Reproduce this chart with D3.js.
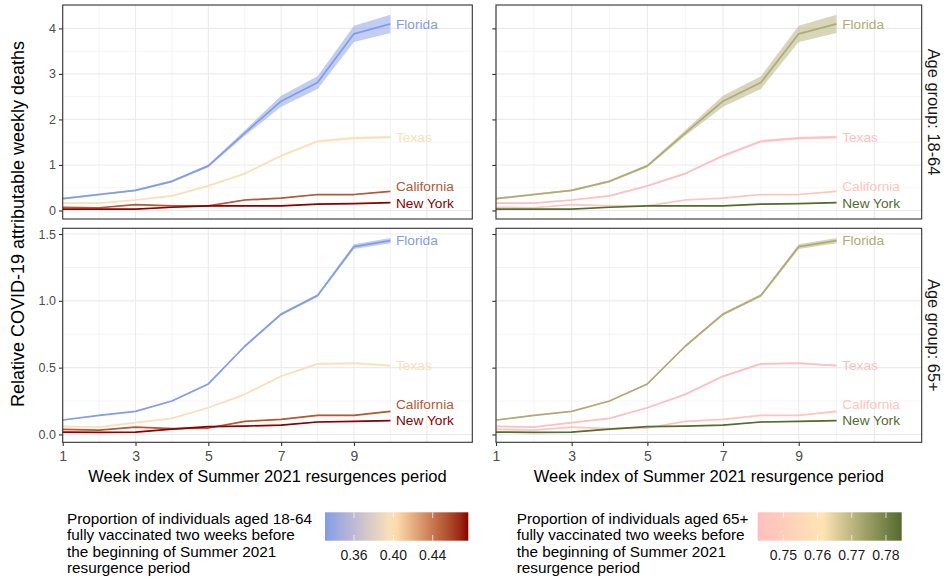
<!DOCTYPE html>
<html>
<head>
<meta charset="utf-8">
<script src="https://cdn.jsdelivr.net/npm/d3@7"></script>
<style>
body{margin:0;background:#fff;}
svg{display:block;font-family:"Liberation Sans",Arial,sans-serif;}
</style>
</head>
<body>
<div id="chart"></div>
<script>
// DATA
var weeks = [1,2,3,4,5,6,7,8,9,10];
var states = ["Florida","Texas","California","New York"];
// share fully vaccinated, per state (same order as states)
var vax1864 = [0.3305, 0.396, 0.452, 0.4762];
var vax65 = [0.772, 0.7425, 0.746, 0.7846];

// age group 18-64: mean and half width of band
var fl1864 = [0.26,0.35,0.44,0.64,0.98,1.70,2.40,2.81,3.88,4.10];
var fl1864Err = [0.02,0.02,0.02,0.025,0.03,0.06,0.12,0.14,0.18,0.20];
var tx1864 = [0.16,0.16,0.23,0.32,0.54,0.81,1.20,1.52,1.59,1.61];
var tx1864Err = [0.01,0.01,0.01,0.015,0.015,0.02,0.025,0.03,0.03,0.03];
var ca1864 = [0.07,0.06,0.13,0.10,0.10,0.23,0.27,0.35,0.35,0.42];
var ca1864Err = [0.005,0.005,0.006,0.006,0.006,0.008,0.008,0.01,0.01,0.01];
var ny1864 = [0.03,0.03,0.03,0.07,0.10,0.10,0.10,0.14,0.15,0.17];
var ny1864Err = [0.004,0.004,0.004,0.005,0.005,0.005,0.005,0.006,0.006,0.006];

// age group 65+
var fl65 = [0.108,0.143,0.173,0.25,0.378,0.66,0.90,1.04,1.405,1.45];
var fl65Err = [0.003,0.003,0.003,0.004,0.005,0.007,0.01,0.012,0.018,0.02];
var tx65 = [0.06,0.055,0.088,0.12,0.20,0.30,0.435,0.528,0.533,0.515];
var tx65Err = [0.002,0.002,0.003,0.003,0.004,0.005,0.006,0.007,0.007,0.007];
var ca65 = [0.038,0.033,0.055,0.043,0.048,0.098,0.113,0.143,0.143,0.173];
var ca65Err = [0.002,0.002,0.002,0.002,0.002,0.003,0.003,0.004,0.004,0.004];
var ny65 = [0.018,0.015,0.018,0.04,0.058,0.063,0.07,0.093,0.098,0.103];
var ny65Err = [0.001,0.001,0.001,0.002,0.002,0.002,0.002,0.003,0.003,0.003];

var xTicks = [1,3,5,7,9];
var yTicksTop = [0,1,2,3,4];
var yTicksBottom = [0,0.5,1,1.5];
var legendTicks1864 = [0.36,0.40,0.44];
var legendTicks65 = [0.75,0.76,0.77,0.78];

var rowLabels = ["Age group: 18-64","Age group: 65+"];
var legendTitles = [
  ["Proportion of individuals aged 18-64","fully vaccinated two weeks before","the beginning of Summer 2021","resurgence period"],
  ["Proportion of individuals aged 65+","fully vaccinated two weeks before","the beginning of Summer 2021","resurgence period"]
];

function makeSeries(means, errs){
  return states.map(function(s,i){
    return {state:s, idx:i, values: weeks.map(function(w,j){
      return {w:w, y:means[i][j], lo:means[i][j]-errs[i][j], hi:means[i][j]+errs[i][j]};
    })};
  });
}
var series1864 = makeSeries([fl1864,tx1864,ca1864,ny1864],[fl1864Err,tx1864Err,ca1864Err,ny1864Err]);
var series65 = makeSeries([fl65,tx65,ca65,ny65],[fl65Err,tx65Err,ca65Err,ny65Err]);

// colour scales, like gradient2 with a midpoint
function gradient2(values, mid, low, midCol, high){
  var ext = d3.extent(values);
  var d = Math.max(mid-ext[0], ext[1]-mid);
  var s = d3.scaleLinear().domain([mid-d, mid, mid+d]).range([low, midCol, high]).interpolate(d3.interpolateLab);
  s.ext = ext;
  return s;
}
var colour1864 = gradient2(vax1864, 0.40, "#7396ea", "#ffe4b5", "#8b0000");
var colour65 = gradient2(vax65, 0.7615, "#ffb6c1", "#ffe4b5", "#556b2f");

// SVG STUFF
var width = 945, height = 583;
var svg = d3.select("#chart").append("svg").attr("width", width).attr("height", height)
  .attr("viewBox", "0,0,"+width+","+height);
svg.append("rect").attr("width", width).attr("height", height).attr("fill", "white");

var cols = [
  {x0:62.7, x1:472.3, vax:vax1864, colour:colour1864, yLabels:true, strip:false, legendTicks:legendTicks1864, title:legendTitles[0], lx:67, bx0:325, bx1:468.3},
  {x0:496, x1:921.7, vax:vax65, colour:colour65, yLabels:false, strip:true, legendTicks:legendTicks65, title:legendTitles[1], lx:516.7, bx0:757.7, bx1:901.7}
];
var rows = [
  {y0:5, y1:219, data:series1864, ticks:yTicksTop, step:1},
  {y0:228.3, y1:442.3, data:series65, ticks:yTicksBottom, step:0.5}
];

rows.forEach(function(row, ri){
  var lo = d3.min(row.data, function(s){ return d3.min(s.values, function(v){ return v.lo; }); });
  var hi = d3.max(row.data, function(s){ return d3.max(s.values, function(v){ return v.hi; }); });
  var pad = (hi-lo)*0.05;
  var y = d3.scaleLinear().domain([lo-pad, hi+pad]).range([row.y1, row.y0]);
  var yMinor = d3.range(row.step/2, hi+pad, row.step);

  cols.forEach(function(col, ci){
    var x = d3.scaleLinear().domain([1, 12.25]).range([col.x0, col.x1]);
    var g = svg.append("g");

    //grid
    g.selectAll("line.ymin").data(yMinor).enter().append("line")
      .attr("x1", col.x0).attr("x2", col.x1)
      .attr("y1", function(d){ return y(d); }).attr("y2", function(d){ return y(d); })
      .attr("stroke", "#ebebeb").attr("stroke-width", 0.55);
    g.selectAll("line.xmin").data([2,4,6,8,10]).enter().append("line")
      .attr("y1", row.y0).attr("y2", row.y1)
      .attr("x1", function(d){ return x(d); }).attr("x2", function(d){ return x(d); })
      .attr("stroke", "#ebebeb").attr("stroke-width", 0.55);
    g.selectAll("line.ymaj").data(row.ticks).enter().append("line")
      .attr("x1", col.x0).attr("x2", col.x1)
      .attr("y1", function(d){ return y(d); }).attr("y2", function(d){ return y(d); })
      .attr("stroke", "#ebebeb").attr("stroke-width", 1.1);
    g.selectAll("line.xmaj").data(xTicks.concat([11])).enter().append("line")
      .attr("y1", row.y0).attr("y2", row.y1)
      .attr("x1", function(d){ return x(d); }).attr("x2", function(d){ return x(d); })
      .attr("stroke", "#ebebeb").attr("stroke-width", 1.1);

    //ribbons
    var area = d3.area().x(function(d){ return x(d.w); })
      .y0(function(d){ return y(d.lo); }).y1(function(d){ return y(d.hi); });
    var line = d3.line().x(function(d){ return x(d.w); }).y(function(d){ return y(d.y); });
    row.data.forEach(function(s){
      g.append("path").attr("d", area(s.values))
        .attr("fill", col.colour(col.vax[s.idx])).attr("fill-opacity", 0.5);
    });
    row.data.forEach(function(s){
      g.append("path").attr("d", line(s.values))
        .attr("fill", "none").attr("stroke", col.colour(col.vax[s.idx]))
        .attr("stroke-width", 1.7).attr("stroke-linejoin", "round");
    });

    //state labels, pushed apart a bit when they overlap
    var labs = row.data.map(function(s){
      var last = s.values[s.values.length-1];
      return {t:s.state, idx:s.idx, py:y(last.y)};
    }).sort(function(a,b){ return b.py-a.py; });
    for(var i=1;i<labs.length;i++){
      if(labs[i].py > labs[i-1].py-16.5){ labs[i].py = labs[i-1].py-16.5; }
    }
    g.selectAll("text.lab").data(labs).enter().append("text")
      .attr("x", x(10)+5.6).attr("y", function(d){ return d.py; })
      .attr("dy", "0.35em")
      .attr("font-size", "13.7px")
      .attr("fill", function(d){ return col.colour(col.vax[d.idx]); })
      .text(function(d){ return d.t; });

    //panel border
    g.append("rect").attr("x", col.x0).attr("y", row.y0)
      .attr("width", col.x1-col.x0).attr("height", row.y1-row.y0)
      .attr("fill", "none").attr("stroke", "#333333").attr("stroke-width", 1.1);

    //y axis
    var yAxis = d3.axisLeft(y).tickValues(row.ticks).tickSizeOuter(0).tickSize(3.7).tickPadding(3)
      .tickFormat(ri==0 ? d3.format("d") : d3.format(".1f"));
    if(!col.yLabels){ yAxis.tickFormat(""); }
    var ya = g.append("g").attr("transform", "translate("+col.x0+",0)").call(yAxis);
    ya.select(".domain").remove();
    ya.selectAll("line").attr("stroke", "#333333").attr("stroke-width", 1.1);
    ya.selectAll("text").attr("fill", "#4d4d4d").attr("font-size", "12.5px").attr("font-family", null);

    //x axis on the bottom row
    if(ri==1){
      var xa = g.append("g").attr("transform", "translate(0,"+row.y1+")")
        .call(d3.axisBottom(x).tickValues(xTicks).tickSizeOuter(0).tickSize(3.7).tickPadding(5));
      xa.select(".domain").remove();
      xa.selectAll("line").attr("stroke", "#333333").attr("stroke-width", 1.1);
      xa.selectAll("text").attr("fill", "#4d4d4d").attr("font-size", "14px").attr("font-family", null);
      g.append("text").attr("x", (col.x0+col.x1)/2).attr("y", 482)
        .attr("text-anchor", "middle").attr("font-size", "16.5px").attr("fill", "black")
        .text(ci==0 ? "Week index of Summer 2021 resurgences period" : "Week index of Summer 2021 resurgence period");
    }

    //strip on the right
    if(col.strip){
      g.append("text").attr("transform", "translate(934,"+((row.y0+row.y1)/2)+") rotate(90)")
        .attr("text-anchor", "middle").attr("dy", "0.35em")
        .attr("font-size", "16.4px").attr("fill", "#1a1a1a")
        .text(rowLabels[ri]);
    }
  });
});

//y axis title
svg.append("text").attr("transform", "translate(18,224) rotate(-90)")
  .attr("text-anchor", "middle").attr("dy", "0.35em")
  .attr("font-size", "18px").attr("fill", "black")
  .text("Relative COVID-19 attributable weekly deaths");

//LEGENDS
var defs = svg.append("defs");
cols.forEach(function(col, ci){
  var lg = svg.append("g");
  lg.append("text").attr("font-size", "15.3px").attr("fill", "black")
    .selectAll("tspan").data(col.title).enter().append("tspan")
    .attr("x", col.lx).attr("y", function(d,i){ return 524 + i*16.4; })
    .text(function(d){ return d; });

  var gid = "grad"+ci;
  var grad = defs.append("linearGradient").attr("id", gid).attr("x1", "0%").attr("x2", "100%");
  var lim = col.colour.ext;
  d3.range(0, 1.0001, 0.05).forEach(function(t){
    grad.append("stop").attr("offset", (t*100)+"%").attr("stop-color", col.colour(lim[0]+t*(lim[1]-lim[0])));
  });
  var bx = d3.scaleLinear().domain(lim).range([col.bx0, col.bx1]);
  var by0 = 512.3, by1 = 540.7;
  lg.append("rect").attr("x", col.bx0).attr("y", by0).attr("width", col.bx1-col.bx0).attr("height", by1-by0)
    .attr("fill", "url(#"+gid+")");
  lg.selectAll("line.tt").data(col.legendTicks).enter().append("line")
    .attr("x1", function(d){ return bx(d); }).attr("x2", function(d){ return bx(d); })
    .attr("y1", by0).attr("y2", by0+5.7).attr("stroke", "white").attr("stroke-opacity", 0.7).attr("stroke-width", 1);
  lg.selectAll("line.tb").data(col.legendTicks).enter().append("line")
    .attr("x1", function(d){ return bx(d); }).attr("x2", function(d){ return bx(d); })
    .attr("y1", by1-5.7).attr("y2", by1).attr("stroke", "white").attr("stroke-opacity", 0.7).attr("stroke-width", 1);
  lg.selectAll("text.tl").data(col.legendTicks).enter().append("text")
    .attr("x", function(d){ return bx(d); }).attr("y", 560)
    .attr("text-anchor", "middle").attr("font-size", "14px").attr("fill", "#1a1a1a")
    .text(function(d){ return d3.format(".2f")(d); });
});
</script>
</body>
</html>
